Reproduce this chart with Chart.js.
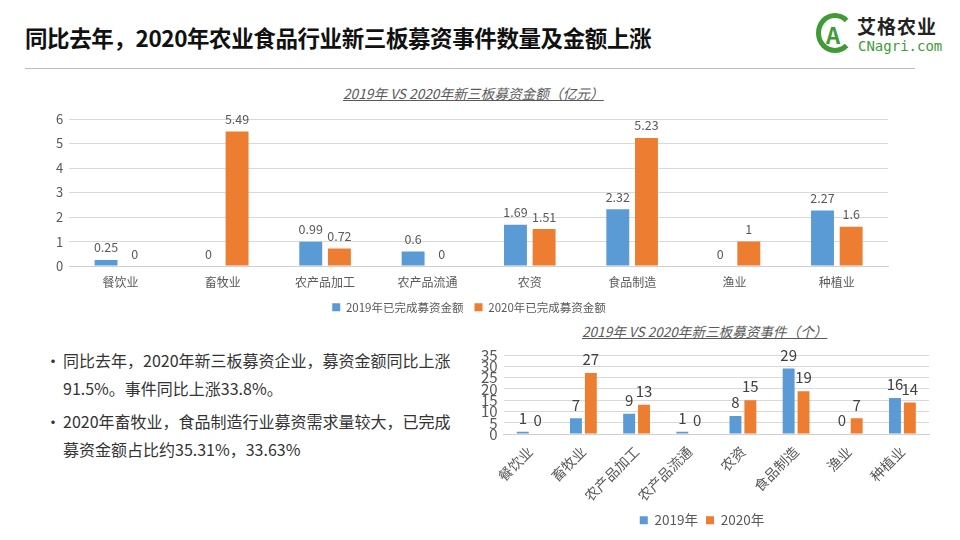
<!DOCTYPE html>
<html>
<head>
<meta charset="utf-8">
<script src="https://cdn.jsdelivr.net/npm/chart.js@4.4.0/dist/chart.umd.min.js"></script>
<style>
  body { margin: 0; width: 960px; height: 540px; background: #fff; overflow: hidden;
         font-family: "Noto Sans CJK SC", "Noto Sans", sans-serif; position: relative; }
  .title { position: absolute; left: 25px; top: 21px; font-size: 22.5px; font-weight: bold; color: #111; letter-spacing: -0.4px; }
  .rule { position: absolute; left: 25px; top: 68px; width: 890px; height: 1px; background: #bdbdbd; }
  .logo { position: absolute; left: 816px; top: 10px; width: 135px; height: 50px; }
  .logo .ring { position: absolute; left: 0; top: 3px; width: 38px; height: 40px; border-radius: 50%;
                border: 5px solid #3f9b35; border-right-color: transparent; box-sizing: border-box; }
  .logo .a { position: absolute; left: 10px; top: 8px; font-size: 22px; font-weight: bold; color: #3f9b35; }
  .logo .cn { position: absolute; left: 41px; top: 2px; font-size: 19px; color: #222; font-weight: bold; letter-spacing: 1px; }
  .logo .en { position: absolute; left: 42px; top: 28px; font-size: 14px; color: #3f9b35; font-family: "DejaVu Sans Mono", monospace; }
  .ctitle { position: absolute; font-style: italic; text-decoration: underline; color: #595959; white-space: nowrap; }
  .bullets { position: absolute; left: 45px; top: 346px; width: 430px; font-size: 16px; color: #333; line-height: 28px; }
  .bullets div { position: relative; padding-left: 18px; margin-bottom: 5px; white-space: nowrap; }
  .bullets div:before { content: "•"; position: absolute; left: 0; }
  #c1 { position: absolute; left: 46px; top: 105px; }
  #c2 { position: absolute; left: 475px; top: 340px; }
</style>
</head>
<body>
<div class="title">同比去年，2020年农业食品行业新三板募资事件数量及金额上涨</div>
<div class="logo"><div class="ring"></div><div class="a">A</div><div class="cn">艾格农业</div><div class="en">CNagri.com</div></div>
<div class="rule"></div>
<div class="ctitle" style="left:343px; top:83px; font-size:13.7px;">2019年 VS 2020年新三板募资金额（亿元）</div>
<div class="ctitle" style="left:582px; top:321px; font-size:13.6px;">2019年 VS 2020年新三板募资事件（个）</div>
<div class="bullets">
  <div>同比去年，2020年新三板募资企业，募资金额同比上涨<br>91.5%。事件同比上涨33.8%。</div>
  <div>2020年畜牧业，食品制造行业募资需求量较大，已完成<br>募资金额占比约35.31%，33.63%</div>
</div>
<canvas id="c1" width="852" height="218"></canvas>
<canvas id="c2" width="462" height="197"></canvas>
<script>
const categories = ["餐饮业", "畜牧业", "农产品加工", "农产品流通", "农资", "食品制造", "渔业", "种植业"];
const amount2019 = [0.25, 0, 0.99, 0.6, 1.69, 2.32, 0, 2.27];
const amount2020 = [0, 5.49, 0.72, 0, 1.51, 5.23, 1, 1.6];
const events2019 = [1, 7, 9, 1, 8, 29, 0, 16];
const events2020 = [0, 27, 13, 0, 15, 19, 7, 14];
const amountTicks = [0, 1, 2, 3, 4, 5, 6];
const eventTicks = [0, 5, 10, 15, 20, 25, 30, 35];

const BLUE = "#5b9bd5";
const ORANGE = "#ed7d31";
const FONT = "'Noto Sans CJK SC', 'Noto Sans', sans-serif";

// draws the value above each bar
const valueLabels = {
  id: "valueLabels",
  afterDatasetsDraw(chart, args, opts) {
    const ctx = chart.ctx;
    ctx.save();
    ctx.font = opts.size + "px " + FONT;
    ctx.fillStyle = opts.color;
    ctx.textAlign = "center";
    ctx.textBaseline = "bottom";
    chart.data.datasets.forEach((ds, i) => {
      chart.getDatasetMeta(i).data.forEach((bar, j) => {
        ctx.fillText(String(ds.data[j]), bar.x, bar.y - opts.gap);
      });
    });
    ctx.restore();
  }
};

function makeChart(id, labels2019, labels2020, d19, d20, ticks, o) {
  return new Chart(document.getElementById(id), {
    type: "bar",
    data: {
      labels: categories,
      datasets: [
        { label: labels2019, data: d19, backgroundColor: BLUE, categoryPercentage: 0.56, barPercentage: 0.8 },
        { label: labels2020, data: d20, backgroundColor: ORANGE, categoryPercentage: 0.56, barPercentage: 0.8 }
      ]
    },
    options: {
      responsive: false,
      animation: false,
      layout: { padding: o.padding },
      plugins: {
        legend: {
          position: "bottom",
          labels: { boxWidth: 8, boxHeight: 8, color: "#595959", font: { size: o.legendSize, family: FONT }, padding: o.legendPad }
        },
        tooltip: { enabled: false },
        valueLabels: { size: o.valueSize, color: o.valueColor, gap: 6 }
      },
      scales: {
        x: {
          grid: { display: false },
          border: { color: "#d0d0d0" },
          ticks: { color: "#595959", font: { size: o.xSize, family: FONT }, maxRotation: o.rot, minRotation: o.rot, padding: 1 }
        },
        y: {
          min: 0, max: ticks[ticks.length - 1],
          afterBuildTicks: axis => { axis.ticks = ticks.map(v => ({ value: v })); },
          grid: { color: "#d9d9d9", drawTicks: false },
          border: { display: false },
          ticks: { color: "#595959", font: { size: o.ySize, family: FONT }, padding: 6, autoSkip: false }
        }
      }
    },
    plugins: [valueLabels]
  });
}

makeChart("c1", "2019年已完成募资金额", "2020年已完成募资金额", amount2019, amount2020, amountTicks,
  { padding: { top: 14, right: 10, left: 4, bottom: 0 }, legendSize: 11.5, legendPad: 11, valueSize: 12.5, valueColor: "#595959", xSize: 12, ySize: 13, rot: 0 });
makeChart("c2", "2019年", "2020年", events2019, events2020, eventTicks,
  { padding: { top: 14, right: 8, left: 0, bottom: 0 }, legendSize: 13.5, legendPad: 8, valueSize: 15, valueColor: "#404040", xSize: 14, ySize: 15, rot: 45 });
</script>
</body>
</html>
